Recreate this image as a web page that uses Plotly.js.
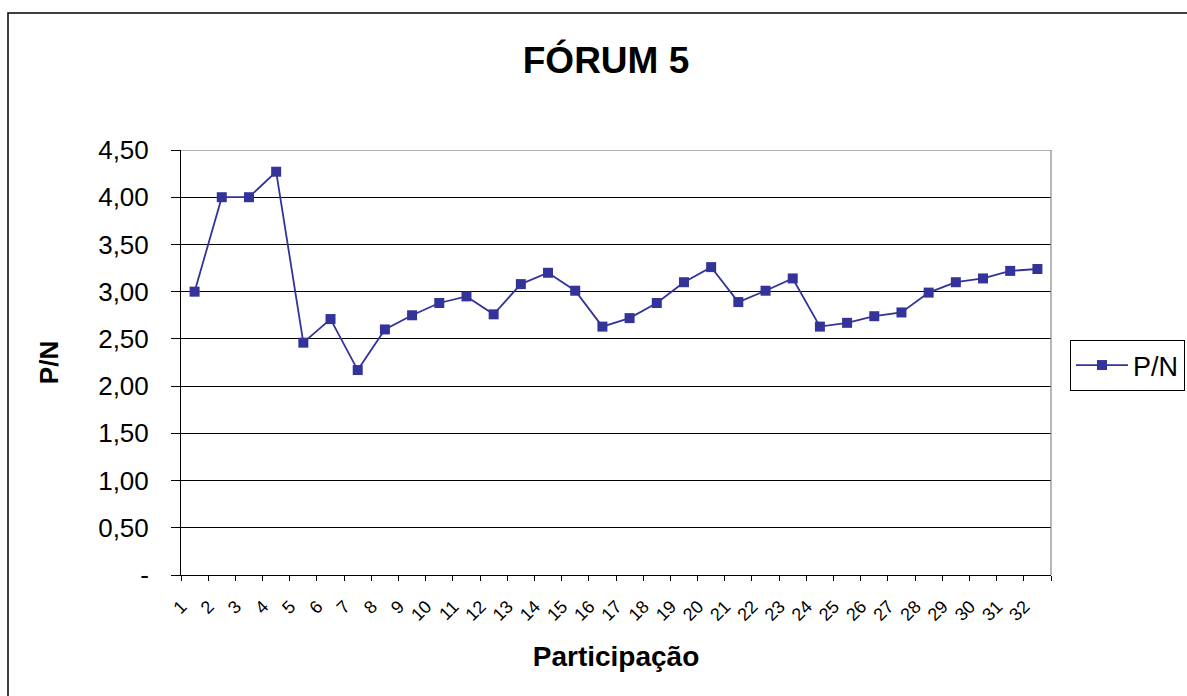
<!DOCTYPE html>
<html>
<head>
<meta charset="utf-8">
<script src="https://cdn.plot.ly/plotly-3.0.1.min.js"></script>
<style>html,body{margin:0;padding:0;background:#fff}#chart{width:1187px;height:696px}</style>
</head>
<body>
<div id="chart"></div>
<script>
const categories = ["1","2","3","4","5","6","7","8","9","10","11","12","13","14","15","16","17","18","19","20","21","22","23","24","25","26","27","28","29","30","31","32"];
const pnValues = [3.00,4.00,4.00,4.27,2.46,2.71,2.17,2.60,2.75,2.88,2.95,2.76,3.08,3.20,3.01,2.63,2.72,2.88,3.10,3.26,2.89,3.01,3.14,2.63,2.67,2.74,2.78,2.99,3.10,3.14,3.22,3.24];
const yTickVals = [0,0.5,1,1.5,2,2.5,3,3.5,4,4.5];
const yTickText = ["-","0,50","1,00","1,50","2,00","2,50","3,00","3,50","4,00","4,50"];

const W = 1187, H = 696;
const M = {l:181, r:136, t:150, b:121, autoexpand: false};
const pw = W - M.l - M.r, ph = H - M.t - M.b;
const px = x => (x - M.l) / pw;
const py = y => (H - M.b - y) / ph;

const font = "Liberation Sans, Arial, sans-serif";
const trace = {
  x: categories, y: pnValues, type: "scatter", mode: "lines+markers", name: "P/N",
  line: {color: "#333399", width: 1.8},
  marker: {symbol: "square", size: 10, color: "#333399", line: {color: "#333399", width: 0}}
};
const layout = {
  width: W, height: H, margin: M,
  paper_bgcolor: "#fff", plot_bgcolor: "#fff",
  font: {family: font, color: "#000"},
  title: {text: "<b>FÓRUM 5</b>", font: {size: 37, family: font}, xref: "container", x: 606 / W, xanchor: "center", y: 1 - 60/H, yanchor: "middle"},
  xaxis: {
    type: "category", range: [-0.5, 31.5], tickson: "boundaries",
    ticks: "outside", ticklen: 5, tickcolor: "#000", tickwidth: 1,
    showline: true, linecolor: "#000", linewidth: 1, showgrid: false, zeroline: false,
    tickangle: -45, tickfont: {size: 18, family: font},
    ticklabelshift: -13, ticklabelstandoff: 13,
    title: {text: "<b>Participação</b>", font: {size: 28, family: font}, standoff: 22}
  },
  yaxis: {
    range: [0, 4.5], tickvals: yTickVals, ticktext: yTickText,
    ticks: "outside", ticklen: 9, tickcolor: "#000",
    showline: true, linecolor: "#000", linewidth: 1,
    showgrid: true, gridcolor: "#000", gridwidth: 1, zeroline: false,
    tickfont: {size: 26, family: font}, ticklabelstandoff: 17,
    title: {text: "<b>P/N</b>", font: {size: 26, family: font}, standoff: 32}
  },
  showlegend: true,
  legend: {x: px(1070), xanchor: "left", y: py(340), yanchor: "top",
    bordercolor: "#000", borderwidth: 1, bgcolor: "#fff", itemwidth: 52,
    font: {size: 27, family: font}},
  shapes: [
    {type: "rect", xref: "paper", yref: "paper", x0: px(8), x1: px(1200), y0: py(13), y1: py(710),
     line: {color: "#000", width: 1.5}, fillcolor: "rgba(0,0,0,0)", layer: "below"},
    {type: "line", xref: "paper", yref: "paper", x0: 1, x1: 1, y0: 0, y1: 1, line: {color: "#888", width: 1.2}},
    {type: "line", xref: "paper", yref: "y", x0: 0, x1: 1, y0: 4.5, y1: 4.5, line: {color: "#666", width: 1.2}}
  ]
};
Plotly.newPlot("chart", [trace], layout, {displayModeBar: false, staticPlot: true});
</script>
</body>
</html>
